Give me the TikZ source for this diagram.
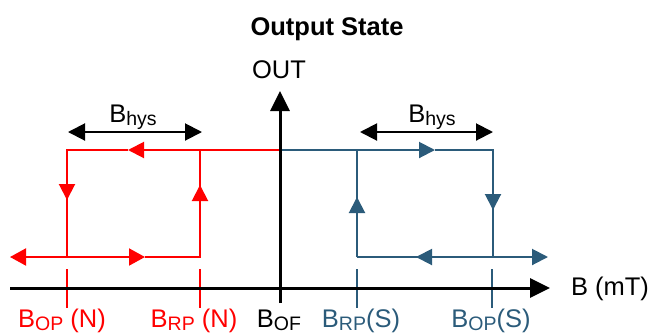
\documentclass[tikz,border=0pt]{standalone}
\usepackage{fontspec}
\setmainfont{Liberation Sans}
\usetikzlibrary{arrows.meta}
\definecolor{hysred}{RGB}{255,0,0}
\definecolor{hysblue}{RGB}{43,91,122}
\newcommand\Bsub[1]{B\raisebox{-3pt}{\fontsize{19.5}{20}\selectfont #1}}

\begin{document}
\begin{tikzpicture}[x=1pt,y=-1pt,line width=2pt,font=\fontsize{25.5}{30}\selectfont,
  redline/.style={hysred,line width=2pt},
  blueline/.style={hysblue,line width=2pt},
  axisline/.style={black,line width=3pt},
  tip/.style={-{Triangle[length=16pt,width=16pt]}},
  bigtip/.style={-{Triangle[length=20pt,width=19pt]}}]
\useasboundingbox (0,0) rectangle (650,333);
% points of the two loops
\coordinate (o) at (280,288);
\coordinate (top) at (280,150);
\coordinate (nop) at (67,150);\coordinate (nrp) at (200,150);
\coordinate (srp) at (357,150);\coordinate (sop) at (493,150);
\coordinate (nopb) at (67,257);\coordinate (nrpb) at (200,257);
\coordinate (srpb) at (357,257);\coordinate (sopb) at (493,257);
% red loop
\draw[redline,tip] (top) -- (128,150);
\draw[redline] (128,150) -- (nop) -- (nopb);
\draw[redline,tip] (nop) -- (67,200);
\draw[redline,{Triangle[length=16pt,width=17pt]}-{Triangle[length=16pt,width=17pt]}] (10,257) -- (145,257);
\draw[redline] (145,257) -- (nrpb) -- (nrp);
\draw[redline,tip] (nrpb) -- (200,185);
\draw[redline] (67,269) -- (67,308);\draw[redline] (200,269) -- (200,308);
% blue loop
\draw[blueline,tip] (top) -- (435,150);
\draw[blueline] (435,150) -- (sop) -- (sopb);
\draw[blueline,tip] (sop) -- (493,210);
\draw[blueline,tip] (srpb) -- (548,257);
\draw[blueline,tip] (sopb) -- (416,257);
\draw[blueline] (srpb) -- (srp);
\draw[blueline,tip] (srpb) -- (357,197);
\draw[blueline] (357,269) -- (357,308);\draw[blueline] (492,269) -- (492,308);
% axes
\draw[axisline,bigtip] (10,288) -- (550,288);
\draw[axisline,bigtip] (280,303) -- (280,91);
% hysteresis widths
\draw[{Triangle[length=17pt,width=17pt]}-{Triangle[length=17pt,width=17pt]}] (68,132) -- (202,132);
\draw[{Triangle[length=17pt,width=17pt]}-{Triangle[length=17pt,width=17pt]}] (360,132) -- (493,132);
\node[anchor=base] (hysn) at (133,122) {\Bsub{hys}};
\node[anchor=base] (hyss) at (432,122) {\Bsub{hys}};
% texts
\node[anchor=base,font=\fontsize{25.5}{30}\selectfont\bfseries] (title) at (327,35) {Output State};
\node[anchor=base] (out) at (279,78) {OUT};
\node[anchor=base west,inner sep=0pt] (bmt) at (570,295) {B (mT)};
\node[anchor=base,hysred] (lopn) at (62,327) {\Bsub{OP} (N)};
\node[anchor=base,hysred] (lrpn) at (194,327) {\Bsub{RP} (N)};
\node[anchor=base] (lof) at (279,327) {\Bsub{OF}};
\node[anchor=base,hysblue] (lrps) at (361,327) {\Bsub{RP}(S)};
\node[anchor=base,hysblue] (lops) at (491,327) {\Bsub{OP}(S)};
\end{tikzpicture}
\end{document}
